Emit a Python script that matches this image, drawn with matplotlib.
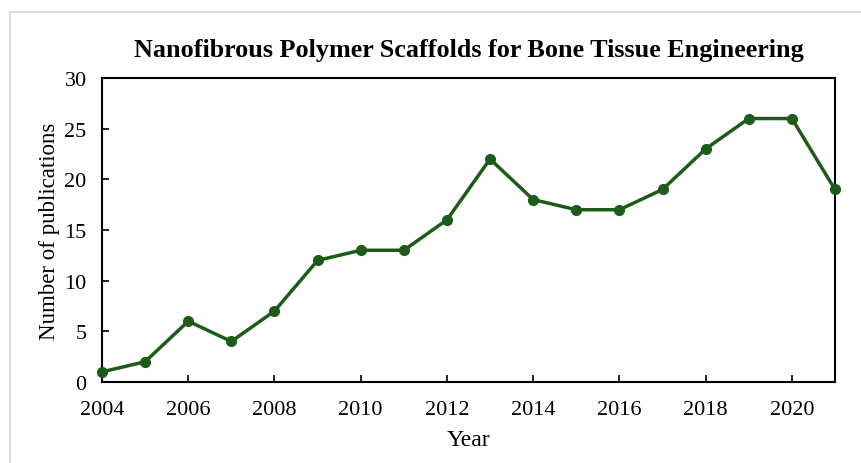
import matplotlib
matplotlib.use("Agg")
import matplotlib.pyplot as plt
from matplotlib.patches import Rectangle

years = [2004, 2005, 2006, 2007, 2008, 2009, 2010, 2011, 2012,
         2013, 2014, 2015, 2016, 2017, 2018, 2019, 2020, 2021]
counts = [1, 2, 6, 4, 7, 12, 13, 13, 16, 22, 18, 17, 17, 19, 23, 26, 26, 19]
x_ticks = [2004, 2006, 2008, 2010, 2012, 2014, 2016, 2018, 2020]
y_ticks = [0, 5, 10, 15, 20, 25, 30]

plt.rcParams['font.family'] = ['Liberation Serif', 'DejaVu Serif']

fig = plt.figure(figsize=(8.62, 4.64), dpi=100)
# light grey frame around the chart area (runs off right/bottom edges)
fig.patches.append(Rectangle((10 / 862, -0.1), 1.2, 1.1 - 13 / 464,
                             transform=fig.transFigure, fill=False,
                             edgecolor='#dcdcdc', linewidth=1.5))

ax = fig.add_axes([102 / 862, 1 - 383 / 464, 733 / 862, 304 / 464])
ax.plot(years, counts, color='#1d5b19', linewidth=2.5,
        marker='o', markersize=7, clip_on=False, zorder=3)

ax.set_xlim(2004, 2021)
ax.set_ylim(0, 30)
ax.set_xticks(x_ticks)
ax.set_yticks(y_ticks)
ax.tick_params(direction='in', length=5, width=1.2, labelsize=16)
ax.tick_params(axis='x', pad=13)
ax.tick_params(axis='y', pad=11)
for s in ax.spines.values():
    s.set_linewidth(1.5)

ax.set_title("Nanofibrous Polymer Scaffolds for Bone Tissue Engineering",
             fontsize=18.8, fontweight='bold', pad=16)
ax.set_xlabel("Year", fontsize=17, labelpad=7)
ax.set_ylabel("Number of publications", fontsize=16.5, labelpad=3)

plt.savefig("out.png", dpi=100)
